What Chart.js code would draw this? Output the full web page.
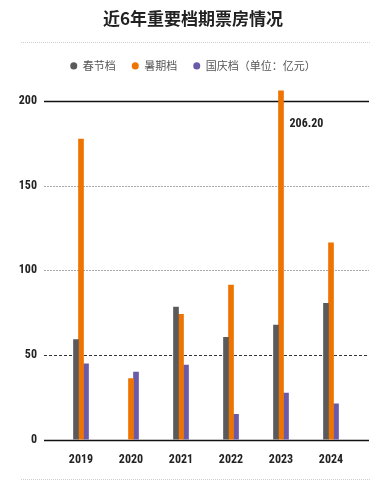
<!DOCTYPE html>
<html><head><meta charset="utf-8">
<style>html,body{margin:0;padding:0;background:#fff}#wrap{width:386px;height:480px}</style>
<script src="https://cdn.jsdelivr.net/npm/chart.js@4"></script>
</head><body><div id="wrap"><canvas id="c" width="386" height="480"></canvas></div>
<script>
const years = ['2019', '2020', '2021', '2022', '2023', '2024'];
const springFestival = [59.1, null, 78.4, 60.4, 67.7, 80.5];
const summer = [177.7, 36.1, 74.0, 91.4, 206.2, 116.4];
const nationalDay = [44.8, 39.9, 44.0, 15.0, 27.5, 21.1];
const seriesNames = ['春节档', '暑期档', '国庆档（单位：亿元）'];
const yTickValues = [0, 50, 100, 150, 200];
const annotation = { series: 1, index: 4, text: '206.20' };
const titleText = '近6年重要档期票房情况';

const COND = '"Roboto Condensed", "Liberation Sans Narrow", "DejaVu Sans", sans-serif';
const CJK = '"Noto Sans CJK SC", "Noto Sans", sans-serif';
const colors = ['#5a5a5a', '#ef7300', '#6a5aa8'];

const legendGap = {
  id: 'legendGap',
  beforeLayout(chart) {
    const lg = chart.legend;
    if (lg && !lg._gapWrapped) {
      const orig = lg.fit;
      lg.fit = function () { orig.call(this); this.height += 3; };
      lg._gapWrapped = true;
    }
  }
};

const gridPlugin = {
  id: 'customGrid',
  beforeDatasetsDraw(chart) {
    const { ctx, chartArea: a, scales: { y } } = chart;
    const x0 = a.left - 12, x1 = a.right + 13;
    ctx.save();
    y.ticks.forEach(t => {
      const py = Math.round(y.getPixelForValue(t.value)) + 0.5;
      ctx.beginPath();
      if (t.value === 0 || t.value === 200) {
        ctx.setLineDash([]); ctx.strokeStyle = '#111'; ctx.lineWidth = 1.6;
      } else if (t.value === 50) {
        ctx.setLineDash([3, 2]); ctx.strokeStyle = '#333'; ctx.lineWidth = 1;
      } else {
        ctx.setLineDash([2, 1]); ctx.strokeStyle = '#aaa'; ctx.lineWidth = 1;
      }
      ctx.moveTo(x0, py); ctx.lineTo(x1, py); ctx.stroke();
    });
    ctx.setLineDash([1, 1]); ctx.strokeStyle = '#cfcfcf'; ctx.lineWidth = 1;
    ctx.beginPath(); ctx.moveTo(21, 42.5); ctx.lineTo(370, 42.5); ctx.stroke();
    ctx.beginPath(); ctx.moveTo(21, 479.5); ctx.lineTo(370, 479.5); ctx.stroke();
    ctx.restore();
  },
  afterDatasetsDraw(chart) {
    const { ctx } = chart;
    const el = chart.getDatasetMeta(annotation.series).data[annotation.index];
    if (!el) return;
    ctx.save();
    ctx.font = 'bold condensed 12px ' + COND;
    ctx.fillStyle = '#222';
    ctx.textAlign = 'left';
    ctx.textBaseline = 'middle';
    ctx.fillText(annotation.text, el.x + 8.5, el.y + 33);
    ctx.restore();
  }
};

const tickFont = { family: COND, size: 12, weight: 'bold condensed' };

new Chart(document.getElementById('c'), {
  type: 'bar',
  data: {
    labels: years,
    datasets: [springFestival, summer, nationalDay].map((d, i) => ({
      label: seriesNames[i],
      data: d,
      backgroundColor: colors[i],
      borderWidth: 0,
      barThickness: 5,
      categoryPercentage: 0.72,
      barPercentage: 0.42,
      yAxisID: 'y'
    }))
  },
  options: {
    responsive: false,
    devicePixelRatio: 1,
    animation: false,
    layout: { padding: { left: 0, right: 0, top: 0, bottom: 0 } },
    plugins: {
      title: {
        display: true, text: titleText, color: '#222',
        font: { family: CJK, size: 17, weight: 'bold' },
        padding: { top: 8, bottom: 16 }
      },
      legend: {
        position: 'top',
        labels: {
          usePointStyle: true, pointStyle: 'circle', pointStyleWidth: 7, boxHeight: 5,
          color: '#555', font: { family: CJK, size: 11 }, padding: 16
        }
      },
      tooltip: { enabled: false }
    },
    scales: {
      x: {
        grid: { display: false, drawTicks: false }, border: { display: false },
        ticks: { color: '#222', font: tickFont, padding: 13 }
      },
      y: {
        min: 0, max: 210,
        grid: { display: false, drawTicks: false }, border: { display: false },
        afterBuildTicks: s => { s.ticks = yTickValues.map(v => ({ value: v })); },
        afterFit: s => { s.width = 56; },
        ticks: { color: '#222', font: tickFont, padding: 19 }
      },
      yR: {
        position: 'right', display: true, min: 0, max: 210,
        grid: { display: false, drawTicks: false }, border: { display: false },
        ticks: { display: false },
        afterFit: s => { s.width = 30; }
      }
    }
  },
  plugins: [legendGap, gridPlugin]
});
</script></body></html>
